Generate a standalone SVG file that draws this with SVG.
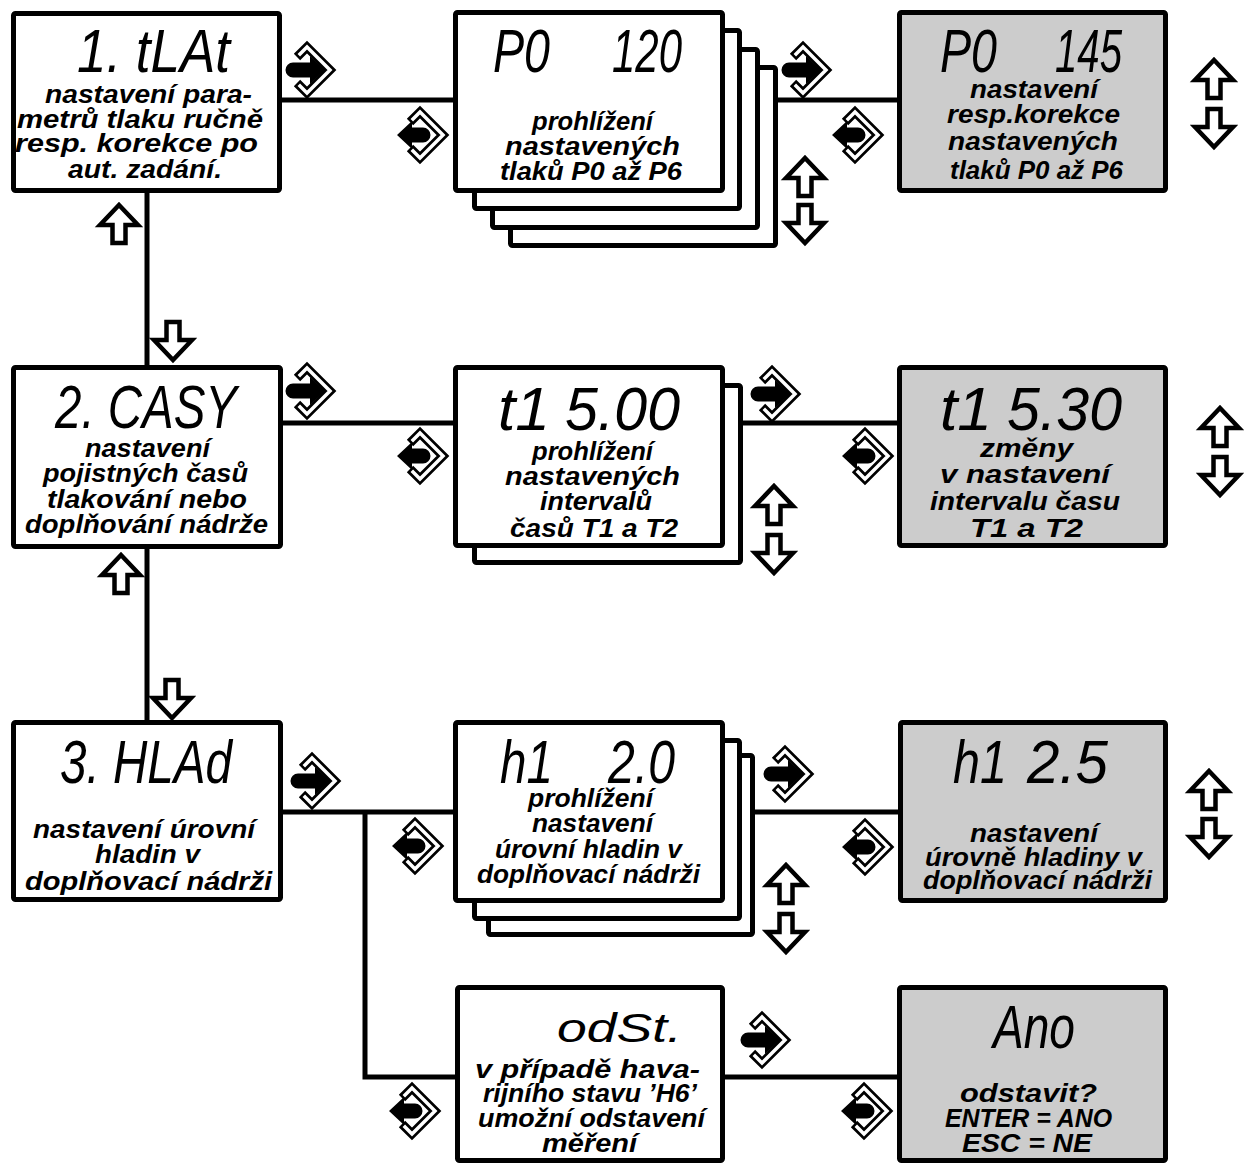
<svg xmlns="http://www.w3.org/2000/svg" xmlns:xlink="http://www.w3.org/1999/xlink" width="1244" height="1165" viewBox="0 0 1244 1165">
<style>
.box{fill:#fff;stroke:#000;stroke-width:5;stroke-linejoin:round}
.grey{fill:#cccccc}
.con{fill:none;stroke:#000;stroke-width:5}
.t{font-family:"Liberation Sans",Arial,sans-serif;font-weight:bold;font-style:italic;font-size:25px;fill:#000}
.seg{font-family:"Liberation Sans",Arial,sans-serif;font-style:italic;font-size:61px;fill:#000}
</style>
<defs>
<g id="chev">
<path d="M -10,-13 L 0,-23 L 23,0 L 0,23 L -10,13" fill="none" stroke="#000" stroke-width="9" stroke-linejoin="miter"/>
<path d="M -8.2,-14.8 L 0,-23 L 23,0 L 0,23 L -8.2,14.8" fill="none" stroke="#fff" stroke-width="3.5" stroke-linejoin="miter"/>
</g>
<g id="enter">
<use xlink:href="#chev"/>
<path d="M -14,-7.5 H 3 V -14 L 18,0 L 3,14 V 7.5 H -14 A 7.5 7.5 0 0 1 -14,-7.5 Z" fill="#000"/>
</g>
<g id="exit">
<use xlink:href="#chev"/>
<path d="M 3,-7.5 H -8 V -14 L -23,0 L -8,14 V 7.5 H 3 A 7.5 7.5 0 0 0 3,-7.5 Z" fill="#000"/>
</g>
<path id="up" d="M 0,0 L 19,20 H 6.5 V 38 H -6.5 V 20 H -19 Z" fill="#fff" stroke="#000" stroke-width="4.5" stroke-linejoin="miter"/>
<path id="dn" d="M 0,38 L 19,18 H 6.5 V 0 H -6.5 V 18 H -19 Z" fill="#fff" stroke="#000" stroke-width="4.5" stroke-linejoin="miter"/>
</defs>
<rect width="1244" height="1165" fill="#fff"/>

<g id="connectors">
<line class="con" x1="282" y1="100" x2="455" y2="100"/>
<line class="con" x1="776" y1="100" x2="899" y2="100"/>
<line class="con" x1="147" y1="192" x2="147" y2="367"/>
<line class="con" x1="282" y1="423" x2="455" y2="423"/>
<line class="con" x1="741" y1="423" x2="899" y2="423"/>
<line class="con" x1="147" y1="547" x2="147" y2="722"/>
<line class="con" x1="282" y1="812" x2="455" y2="812"/>
<line class="con" x1="753" y1="812" x2="900" y2="812"/>
<polyline class="con" points="365,812 365,1077 457,1077"/>
<line class="con" x1="723" y1="1077" x2="899" y2="1077"/>
</g>

<g id="keys">
<use xlink:href="#enter" transform="translate(307,70)"/>
<use xlink:href="#exit" transform="translate(420,135)"/>
<use xlink:href="#enter" transform="translate(803,70)"/>
<use xlink:href="#exit" transform="translate(855,135)"/>
<use xlink:href="#up" transform="translate(805,158)"/>
<use xlink:href="#dn" transform="translate(805,205)"/>
<use xlink:href="#up" transform="translate(1214,60)"/>
<use xlink:href="#dn" transform="translate(1214,109)"/>
<use xlink:href="#up" transform="translate(119,205)"/>
<use xlink:href="#dn" transform="translate(173,322)"/>

<use xlink:href="#enter" transform="translate(307,391)"/>
<use xlink:href="#exit" transform="translate(420,456)"/>
<use xlink:href="#enter" transform="translate(772,394)"/>
<use xlink:href="#exit" transform="translate(865,456)"/>
<use xlink:href="#up" transform="translate(774,486)"/>
<use xlink:href="#dn" transform="translate(774,535)"/>
<use xlink:href="#up" transform="translate(1220,408)"/>
<use xlink:href="#dn" transform="translate(1220,457)"/>
<use xlink:href="#up" transform="translate(121,555)"/>
<use xlink:href="#dn" transform="translate(172,680)"/>

<use xlink:href="#enter" transform="translate(312,781)"/>
<use xlink:href="#exit" transform="translate(415,846)"/>
<use xlink:href="#enter" transform="translate(785,774)"/>
<use xlink:href="#exit" transform="translate(865,847)"/>
<use xlink:href="#up" transform="translate(786,865)"/>
<use xlink:href="#dn" transform="translate(786,914)"/>
<use xlink:href="#up" transform="translate(1209,771)"/>
<use xlink:href="#dn" transform="translate(1209,819)"/>

<use xlink:href="#exit" transform="translate(412,1111)"/>
<use xlink:href="#enter" transform="translate(762,1040)"/>
<use xlink:href="#exit" transform="translate(864,1111)"/>
</g>

<g id="node-tlak">
<rect class="box" x="13.5" y="13.5" width="266" height="177" rx="2"/>
<text class="seg" x="77" y="72" textLength="153" lengthAdjust="spacingAndGlyphs">1. tLAt</text>
<text class="t" x="45" y="103" textLength="207" lengthAdjust="spacingAndGlyphs">nastavení para-</text>
<text class="t" x="17" y="128" textLength="246" lengthAdjust="spacingAndGlyphs">metrů tlaku ručně</text>
<text class="t" x="15" y="152" textLength="243" lengthAdjust="spacingAndGlyphs">resp. korekce po</text>
<text class="t" x="68" y="178" textLength="154" lengthAdjust="spacingAndGlyphs">aut. zadání.</text>
</g>

<g id="node-p0-view">
<rect class="box" x="510.5" y="67.5" width="265" height="178" rx="2"/>
<rect class="box" x="492.5" y="49.5" width="265" height="178" rx="2"/>
<rect class="box" x="474.5" y="30.5" width="265" height="178" rx="2"/>
<rect class="box" x="455.5" y="12.5" width="267" height="178" rx="2"/>
<text class="seg" x="493" y="72" textLength="57" lengthAdjust="spacingAndGlyphs">P0</text>
<text class="seg" x="612" y="72" textLength="70" lengthAdjust="spacingAndGlyphs">120</text>
<text class="t" x="532" y="130" textLength="121" lengthAdjust="spacingAndGlyphs">prohlížení</text>
<text class="t" x="505" y="155" textLength="175" lengthAdjust="spacingAndGlyphs">nastavených</text>
<text class="t" x="500" y="180" textLength="182" lengthAdjust="spacingAndGlyphs">tlaků P0 až P6</text>
</g>

<g id="node-p0-set">
<rect class="box grey" x="899.5" y="12.5" width="266" height="178" rx="2"/>
<text class="seg" x="940" y="72" textLength="57" lengthAdjust="spacingAndGlyphs">P0</text>
<text class="seg" x="1055" y="72" textLength="67" lengthAdjust="spacingAndGlyphs">145</text>
<text class="t" x="970" y="98" textLength="128" lengthAdjust="spacingAndGlyphs">nastavení</text>
<text class="t" x="947" y="123" textLength="173" lengthAdjust="spacingAndGlyphs">resp.korekce</text>
<text class="t" x="948" y="150" textLength="170" lengthAdjust="spacingAndGlyphs">nastavených</text>
<text class="t" x="950" y="179" textLength="173" lengthAdjust="spacingAndGlyphs">tlaků P0 až P6</text>
</g>

<g id="node-casy">
<rect class="box" x="13.5" y="367.5" width="267" height="179" rx="2"/>
<text class="seg" x="55" y="428" textLength="182" lengthAdjust="spacingAndGlyphs">2. CASY</text>
<text class="t" x="85" y="457" textLength="125" lengthAdjust="spacingAndGlyphs">nastavení</text>
<text class="t" x="43" y="482" textLength="205" lengthAdjust="spacingAndGlyphs">pojistných časů</text>
<text class="t" x="47" y="508" textLength="200" lengthAdjust="spacingAndGlyphs">tlakování nebo</text>
<text class="t" x="25" y="533" textLength="243" lengthAdjust="spacingAndGlyphs">doplňování nádrže</text>
</g>

<g id="node-t1-view">
<rect class="box" x="474.5" y="385.5" width="266" height="177" rx="2"/>
<rect class="box" x="455.5" y="367.5" width="267" height="178" rx="2"/>
<text class="seg" x="498" y="430" textLength="52" lengthAdjust="spacingAndGlyphs">t1</text>
<text class="seg" x="565" y="430" textLength="115" lengthAdjust="spacingAndGlyphs">5.00</text>
<text class="t" x="532" y="460" textLength="121" lengthAdjust="spacingAndGlyphs">prohlížení</text>
<text class="t" x="505" y="485" textLength="175" lengthAdjust="spacingAndGlyphs">nastavených</text>
<text class="t" x="540" y="510" textLength="112" lengthAdjust="spacingAndGlyphs">intervalů</text>
<text class="t" x="510" y="537" textLength="168" lengthAdjust="spacingAndGlyphs">časů T1 a T2</text>
</g>

<g id="node-t1-set">
<rect class="box grey" x="899.5" y="367.5" width="266" height="178" rx="2"/>
<text class="seg" x="940" y="430" textLength="52" lengthAdjust="spacingAndGlyphs">t1</text>
<text class="seg" x="1007" y="430" textLength="115" lengthAdjust="spacingAndGlyphs">5.30</text>
<text class="t" x="980" y="457" textLength="93" lengthAdjust="spacingAndGlyphs">změny</text>
<text class="t" x="940" y="483" textLength="170" lengthAdjust="spacingAndGlyphs">v nastavení</text>
<text class="t" x="930" y="510" textLength="190" lengthAdjust="spacingAndGlyphs">intervalu času</text>
<text class="t" x="970" y="537" textLength="113" lengthAdjust="spacingAndGlyphs">T1 a T2</text>
</g>

<g id="node-hlad">
<rect class="box" x="13.5" y="722.5" width="267" height="177" rx="2"/>
<text class="seg" x="60" y="783" textLength="172" lengthAdjust="spacingAndGlyphs">3. HLAd</text>
<text class="t" x="33" y="838" textLength="222" lengthAdjust="spacingAndGlyphs">nastavení úrovní</text>
<text class="t" x="95" y="863" textLength="105" lengthAdjust="spacingAndGlyphs">hladin v</text>
<text class="t" x="25" y="890" textLength="247" lengthAdjust="spacingAndGlyphs">doplňovací nádrži</text>
</g>

<g id="node-h1-view">
<rect class="box" x="488.5" y="755.5" width="264" height="179" rx="2"/>
<rect class="box" x="474.5" y="740.5" width="265" height="178" rx="2"/>
<rect class="box" x="455.5" y="722.5" width="267" height="178" rx="2"/>
<text class="seg" x="500" y="783" textLength="53" lengthAdjust="spacingAndGlyphs">h1</text>
<text class="seg" x="608" y="783" textLength="67" lengthAdjust="spacingAndGlyphs">2.0</text>
<text class="t" x="528" y="807" textLength="125" lengthAdjust="spacingAndGlyphs">prohlížení</text>
<text class="t" x="532" y="832" textLength="121" lengthAdjust="spacingAndGlyphs">nastavení</text>
<text class="t" x="495" y="858" textLength="187" lengthAdjust="spacingAndGlyphs">úrovní hladin v</text>
<text class="t" x="477" y="883" textLength="223" lengthAdjust="spacingAndGlyphs">doplňovací nádrži</text>
</g>

<g id="node-h1-set">
<rect class="box grey" x="900.5" y="722.5" width="265" height="178" rx="2"/>
<text class="seg" x="953" y="783" textLength="54" lengthAdjust="spacingAndGlyphs">h1</text>
<text class="seg" x="1027" y="783" textLength="81" lengthAdjust="spacingAndGlyphs">2.5</text>
<text class="t" x="970" y="842" textLength="128" lengthAdjust="spacingAndGlyphs">nastavení</text>
<text class="t" x="925" y="866" textLength="217" lengthAdjust="spacingAndGlyphs">úrovně hladiny v</text>
<text class="t" x="923" y="889" textLength="229" lengthAdjust="spacingAndGlyphs">doplňovací nádrži</text>
</g>

<g id="node-odst">
<rect class="box" x="457.5" y="987.5" width="265" height="173" rx="2"/>
<text class="seg" x="557" y="1042" style="font-size:40px" textLength="125" lengthAdjust="spacingAndGlyphs">odSt.</text>
<text class="t" x="475" y="1078" textLength="225" lengthAdjust="spacingAndGlyphs">v případě hava-</text>
<text class="t" x="483" y="1102" textLength="214" lengthAdjust="spacingAndGlyphs">rijního stavu ’H6’</text>
<text class="t" x="478" y="1127" textLength="227" lengthAdjust="spacingAndGlyphs">umožní odstavení</text>
<text class="t" x="542" y="1152" textLength="95" lengthAdjust="spacingAndGlyphs">měření</text>
</g>

<g id="node-ano">
<rect class="box grey" x="899.5" y="987.5" width="266" height="173" rx="2"/>
<text class="seg" x="993" y="1048" textLength="82" lengthAdjust="spacingAndGlyphs">Ano</text>
<text class="t" x="960" y="1102" textLength="137" lengthAdjust="spacingAndGlyphs">odstavit?</text>
<text class="t" x="945" y="1127" textLength="167" lengthAdjust="spacingAndGlyphs">ENTER = ANO</text>
<text class="t" x="962" y="1152" textLength="130" lengthAdjust="spacingAndGlyphs">ESC = NE</text>
</g>
</svg>
